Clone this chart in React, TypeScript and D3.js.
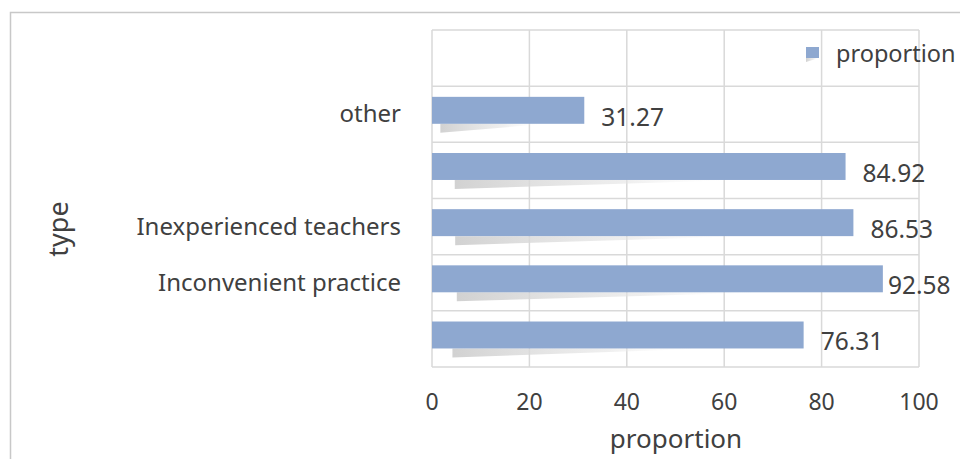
import React from "react";
import * as d3 from "d3";

const categories: string[] = ["", "other", "", "Inexperienced teachers", "Inconvenient practice", ""];
const values: (number | null)[] = [null, 31.27, 84.92, 86.53, 92.58, 76.31];
const xTicks: number[] = [0, 20, 40, 60, 80, 100];
const seriesName = "proportion";
const xTitle = "proportion";
const yTitle = "type";

const W = 960;
const H = 459;
const FONT = "'Noto Sans', 'Open Sans', sans-serif";
const TEXT = "#404040";
const BAR = "#8EA8D0";
const GRID = "#D9D9D9";

export default function App() {
  const x = d3.scaleLinear().domain([0, 100]).range([432, 919]);
  const idx = categories.map((_, i) => String(i));
  const y = d3.scaleBand<string>().domain(idx).range([30, 367]).padding(0);
  const bw = y.bandwidth();
  const fmt = d3.format(".2f");
  const barTop = (i: number) => (y(String(i)) as number) + bw * 0.19;
  const bh = bw * 0.48;

  return (
    <svg width={W} height={H} style={{ position: "absolute", left: 0, top: 0, background: "#fff" }} fontFamily={FONT}>
      <defs>
        <linearGradient id="shadowGrad" x1="0" x2="1" y1="0" y2="0">
          <stop offset="0" stopColor="#cfcfcf" stopOpacity={0.95} />
          <stop offset="0.6" stopColor="#e4e4e4" stopOpacity={0.6} />
          <stop offset="1" stopColor="#ffffff" stopOpacity={0} />
        </linearGradient>
      </defs>
      <rect x={10.5} y={12.5} width={W + 20} height={H + 20} fill="#fff" stroke="#C8C8C8" strokeWidth={1.5} />

      {/* vertical gridlines */}
      {xTicks.map((t) => (
        <line key={"v" + t} x1={x(t)} x2={x(t)} y1={30} y2={367} stroke={GRID} strokeWidth={1.5} />
      ))}
      {/* horizontal gridlines */}
      {d3.range(0, categories.length + 1).map((i) => {
        const yy = 30 + i * bw;
        return <line key={"h" + i} x1={x(0)} x2={x(100)} y1={yy} y2={yy} stroke={GRID} strokeWidth={1.5} />;
      })}

      {/* shadows */}
      {values.map((v, i) => {
        if (v == null) return null;
        const L = x(v) - x(0);
        const sx = x(0) + L * 0.055;
        const yb = barTop(i) + bh;
        const pts = `${sx},${yb} ${x(0) + L * 0.75},${yb} ${sx},${yb + 9}`;
        return <polygon key={"s" + i} points={pts} fill="url(#shadowGrad)" />;
      })}

      {/* bars */}
      {values.map((v, i) => {
        if (v == null) return null;
        return <rect key={"b" + i} x={x(0)} y={barTop(i)} width={x(v) - x(0)} height={bh} fill={BAR} />;
      })}

      {/* data labels */}
      {values.map((v, i) => {
        if (v == null) return null;
        return (
          <text key={"l" + i} x={Math.min(x(v) + 17, 888)} y={barTop(i) + bh + 2} fontSize={24.5} fill={TEXT}>
            {fmt(v)}
          </text>
        );
      })}

      {/* category labels */}
      {categories.map((c, i) => (
        <text key={"c" + i} x={401} y={(y(String(i)) as number) + bw / 2 + 8} textAnchor="end" fontSize={24} fill={TEXT}>
          {c}
        </text>
      ))}

      {/* x tick labels */}
      {xTicks.map((t) => (
        <text key={"t" + t} x={x(t)} y={410} textAnchor="middle" fontSize={23} fill={TEXT}>
          {t}
        </text>
      ))}

      {/* axis titles */}
      <text x={676} y={448} textAnchor="middle" fontSize={26} fill={TEXT}>
        {xTitle}
      </text>
      <text transform="translate(68,229) rotate(-90)" textAnchor="middle" fontSize={27} fill={TEXT}>
        {yTitle}
      </text>

      {/* legend */}
      <polygon points="806,58 819,58 806,62" fill="url(#shadowGrad)" />
      <rect x={806} y={47} width={13} height={11} fill={BAR} />
      <text x={836} y={62} fontSize={23.5} fill={TEXT}>
        {seriesName}
      </text>
    </svg>
  );
}
